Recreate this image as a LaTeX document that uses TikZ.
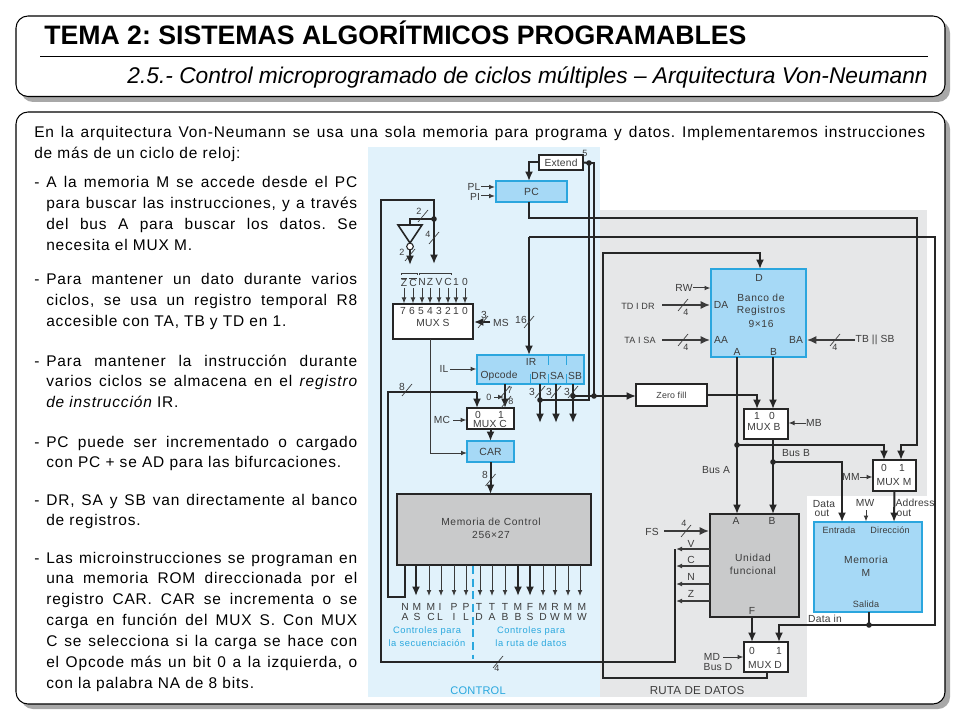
\documentclass[tikz,border=0pt]{standalone}
\usepackage{fontspec}
\usetikzlibrary{arrows.meta,calc}
\setmainfont{Liberation Sans}
\newfontfamily\bodyf[LetterSpace=5.5]{Liberation Sans}
\newfontfamily\lblf[LetterSpace=2]{Liberation Sans}
\newfontfamily\lblw[LetterSpace=6]{Liberation Sans}
\definecolor{wirec}{HTML}{262626}
\definecolor{thinc}{HTML}{3A3A3A}
\definecolor{txtc}{HTML}{3C3C3C}
\definecolor{ctrlbg}{HTML}{E1F2FB}
\definecolor{databg}{HTML}{E6E7E8}
\definecolor{blueb}{HTML}{A6D9F6}
\definecolor{bluee}{HTML}{2BA6DE}
\definecolor{grayb}{HTML}{C9CACB}
\definecolor{cyanl}{HTML}{2AA8DE}
\definecolor{shad}{HTML}{A8A8A8}
\newcounter{lblno}
\newcommand{\bx}[7]{%
 \pgfmathsetmacro{\bw}{(#4-#2)*0.75}\pgfmathsetmacro{\bh}{(#5-#3)*0.75}%
 \node[#6,minimum width=\bw pt,minimum height=\bh pt] (#1) at ({(#2+#4)/2},{(#3+#5)/2}) {#7};}
\newcommand{\lb}[3]{\stepcounter{lblno}\node[lbl] (t\thelblno) at (#1,#2) {#3};}
\newcommand{\lbs}[3]{\stepcounter{lblno}\node[lbls] (t\thelblno) at (#1,#2) {#3};}
\newcommand{\lbm}[3]{\stepcounter{lblno}\node[lblm] (t\thelblno) at (#1,#2) {#3};}
\newcommand{\slsh}[2]{\draw[slashl] ($(#1,#2)+(-5,6)$) -- ($(#1,#2)+(5,-6)$);}
\newcommand{\dotn}[1]{\fill[wirec] (#1) circle (2.8);}
\newcommand{\para}[2]{\stepcounter{lblno}\node[anchor=base west,inner sep=0pt] (t\thelblno) at (46,#1) {\parbox[t]{233.25pt}{\bodyf\fontsize{11.6}{15.68}\selectfont\frenchspacing\hyphenpenalty=10000 #2}};
 \stepcounter{lblno}\node[anchor=base west,inner sep=0pt] (t\thelblno) at (34,#1) {\bodyf\fontsize{11.6}{15.68}\selectfont -};}
\tikzset{
 panel/.style={draw=black,fill=white,line width=0.8pt,rounded corners=9pt},
 shadowp/.style={fill=shad,draw=none,rounded corners=9pt},
 lbl/.style={font=\lblf\fontsize{7.7}{9}\selectfont,text=txtc,inner sep=0pt,align=center},
 lbls/.style={font=\lblf\fontsize{6.8}{8}\selectfont,text=txtc,inner sep=0pt,align=center},
 lblm/.style={font=\lblw\fontsize{7.7}{9}\selectfont,text=txtc,inner sep=0pt,align=center},
 wbox/.style={draw=wirec,fill=white,line width=1.4pt,inner sep=0pt,outer sep=0pt},
 bbox/.style={draw=bluee,fill=blueb,line width=1.4pt,inner sep=0pt,outer sep=0pt},
 gbox/.style={draw=wirec,fill=grayb,line width=1.4pt,inner sep=0pt,outer sep=0pt},
 wire/.style={draw=thinc,line width=0.75pt},
 bus/.style={draw=wirec,line width=1.5pt},
 arrs/.style={-{Latex[length=4.5pt,width=3.6pt]}},
 arrb/.style={-{Latex[length=7pt,width=6pt]}},
 slashl/.style={draw=thinc,line width=0.5pt},
}
\begin{document}
\begin{tikzpicture}[x=0.75pt,y=-0.75pt]
\useasboundingbox (0,0) rectangle (960,720);
\fill[white] (0,0) rectangle (960,720);
% panels
\path[shadowp] (21,21) rectangle (950,102);
\path[panel] (16,16) rectangle (945,96.5);
\path[shadowp] (21,117) rectangle (950,709);
\path[panel] (16,112) rectangle (945,704);
\draw[black,line width=0.5pt] (40,56.5) -- (928,56.5);
\node[anchor=base west,inner sep=0pt] (title) at (44,45) {\fontsize{20}{22}\selectfont\bfseries\frenchspacing TEMA 2: SISTEMAS ALGORÍTMICOS PROGRAMABLES};
\node[anchor=base east,inner sep=0pt] (subtitle) at (928,84) {\fontsize{17.05}{20}\selectfont\itshape 2.5.- Control microprogramado de ciclos múltiples – Arquitectura Von-Neumann};
% intro
\node[anchor=base west,inner sep=0pt] (intro) at (34,138) {\parbox[t]{668.25pt}{\bodyf\fontsize{11.6}{15.68}\selectfont\frenchspacing\hyphenpenalty=10000 En la arquitectura Von-Neumann se usa una sola memoria para programa y datos. Implementaremos instrucciones\linebreak de más de un ciclo de reloj:}};
\para{188}{A la memoria M se accede desde el PC\linebreak para buscar las instrucciones, y a través\linebreak del bus A para buscar los datos. Se\linebreak necesita el MUX M.}
\para{285}{Para mantener un dato durante varios\linebreak ciclos, se usa un registro temporal R8\linebreak accesible con TA, TB y TD en 1.}
\para{366}{Para mantener la instrucción durante\linebreak varios ciclos se almacena en el {\itshape registro}\linebreak {\itshape de instrucción} IR.}
\para{447}{PC puede ser incrementado o cargado\linebreak con PC + se AD para las bifurcaciones.}
\para{505}{DR, SA y SB van directamente al banco\linebreak de registros.}
\para{563}{Las microinstrucciones se programan en\linebreak una memoria ROM direccionada por el\linebreak registro CAR. CAR se incrementa o se\linebreak carga en función del MUX S. Con MUX\linebreak C se selecciona si la carga se hace con\linebreak el Opcode más un bit 0 a la izquierda, o\linebreak con la palabra NA de 8 bits.}
% backgrounds
\fill[ctrlbg] (368,147) rectangle (600,697);
\fill[databg] (600,210) rectangle (927,495.5);
\fill[databg] (600,495) rectangle (807,697);
% boxes
\bx{extend}{539}{155}{583}{170}{wbox}{\lblf\fontsize{7.7}{9}\selectfont\color{txtc}Extend}
\bx{pc}{496}{181}{567}{202}{bbox}{\lblf\fontsize{7.8}{9}\selectfont\color{txtc}PC}
\bx{muxs}{393}{304}{473}{339}{wbox}{}
\bx{ir}{477}{355}{584}{384}{bbox}{}
\bx{muxc}{467}{408}{514}{429}{wbox}{}
\bx{car}{467}{441}{514}{462}{bbox}{\lblf\fontsize{7.8}{9}\selectfont\color{txtc}CAR}
\bx{cmem}{397}{494}{591}{565}{gbox}{}
\bx{bank}{711}{269}{806}{357}{bbox}{}
\bx{zero}{636}{384}{707}{406}{wbox}{\lblf\fontsize{6.6}{9}\selectfont\color{txtc}Zero fill}
\bx{muxb}{744}{409}{788}{439}{wbox}{}
\bx{muxm}{873}{460}{916}{491}{wbox}{}
\bx{alu}{710}{514}{799}{617}{gbox}{}
\bx{mem}{814}{522}{922}{612}{bbox}{}
\bx{muxd}{744}{642}{788}{672}{wbox}{}
% junctions and free ends
\coordinate (j5) at (589,163);
\coordinate (j6) at (594,396);
\coordinate (j7) at (540,400);
\coordinate (j8) at (573,396);
\coordinate (j2) at (434,219);
\coordinate (ja) at (737,445);
\coordinate (jb) at (773,462);
\coordinate (jd) at (869,625);
\coordinate (xpc) at (529,0);
\coordinate (xa) at (737,0);
\coordinate (xb) at (773,0);
\coordinate (xz) at (757,0);
\coordinate (lp1) at (381,200);
\coordinate (lp2) at (381,662);
\coordinate (lp3) at (675,662);
\coordinate (lp4) at (675,549);
% inverter
\coordinate (inva) at (398,225);\coordinate (invb) at (422,225);\coordinate (invc) at (410,243);
\draw[wirec,line width=1.2pt,fill=ctrlbg] (inva) -- (invb) -- (invc) -- cycle;
\node[circle,draw=wirec,fill=white,line width=0.8pt,inner sep=0pt,minimum size=5pt] (bub) at (410,246.5) {};
% status-loop wires
\draw[bus,arrb] (j2) -- (434,264);
\draw[bus] (j2) -- (410,219) -- (410,225);
\draw[bus,arrb] (bub.south) -- (410,265);
\dotn{j2}
% ALU flags
\foreach \yy in {549,566,584,601}{\draw[wire,line width=1.1pt,arrs] (alu.west |- 0,\yy) -- (676,\yy);}
% MUX S inputs
\foreach \xx in {404,413,422,430,439,448,456,465}{\draw[wire,arrs] (\xx,288) -- (\xx,303.5);}
\draw[wire,arrs] (430,339) -- (430,453) -- (car.west |- 0,453);
% Extend / PC
\draw[bus,arrb] (extend.west) -| (xpc |- pc.north);
\draw[bus] (extend.east) -- (j5);
\draw[bus] (j5) -- (594,163) -- (j6);
\draw[bus] (j5) -- (589,400) -- (j7);
\dotn{j5}
% PC out to MUX M
\draw[bus,arrb] (xpc |- pc.south) -- (529,218) -- (917,218) -- (917,445) -- (901,445) -- (901,460);
% Bus D
\draw[bus,arrb] (529,237) -- (xpc |- ir.north);
\draw[bus,arrb] (529,237) -- (935,237) -- (935,625) -- (779,625) -- (779,642);
\draw[bus] (mem.south -| jd) -- (jd);
\dotn{jd}
\draw[bus,arrb] (767,672) -- (767,678) -- (603,678) -- (603,253) -- (760,253) -- (760,269);
% IR
\draw[wire,line width=0.6pt,draw=bluee] (548,355) -- (548,365) (566,355) -- (566,365) (530,374) -- (530,384) (548,374) -- (548,384) (566,374) -- (566,384);
\draw[bus,arrb] (540,384) -- (540,423);
\draw[bus,arrb] (556,384) -- (556,423);
\draw[bus,arrb] (573,384) -- (573,423);
\draw[bus] (j8) -- (j6);
\draw[bus,arrb] (j6) -- (zero.west |- j6);
\dotn{j6}\dotn{j7}\dotn{j8}
\draw[bus,arrb] (505,384) -- (505,408);
% MUX C and CAR
\draw[bus,arrb] (477,392) -- (477,408);
\draw[bus] (477,392) -- (388,392) -- (388,597) -- (405,597) -- (405,565);
\draw[bus,arrb] (muxc.south) -- (car.north);
\draw[bus,arrb] (car.south) -- (cmem.north -| car.south);
\draw[wire,arrs] (494,397) -- (504,397);
\draw[wire,arrs] (453,420) -- (466.5,420);
\draw[wire,arrs] (450,369) -- (476.5,369);
\draw[wire,arrs] (481,187) -- (495,187);
\draw[wire,arrs] (481,196) -- (495,196);
% MS
\draw[bus,arrb] (490,322) -- (474,322);
% control outputs
\foreach \xx in {416,518,530}{\draw[bus,arrb] (\xx,565) -- (\xx,596);}
\foreach \xx in {429,441,454,466,480,492,505,543,555,568,580}{\draw[wire,arrs] (\xx,565) -- (\xx,596);}
\draw[cyanl,line width=1.8pt,dash pattern=on 6pt off 3.5pt] (473,566) -- (473,659);
% data path
\draw[bus,arrb] (xa |- bank.south) -- (xa |- alu.north);
\draw[bus,arrb] (xb |- bank.south) -- (xb |- muxb.north);
\draw[bus,arrb] (xb |- muxb.south) -- (xb |- alu.north);
\draw[bus,arrb] (zero.east) -- (757,395) -- (xz |- muxb.north);
\draw[bus,arrb] (ja) -- (884,445) -- (884,460);
\draw[bus,arrb] (jb) -- (842,462) -- (842,522);
\draw[bus,arrb] (muxm.south) -- (894,522);
\dotn{ja}\dotn{jb}
\draw[wire,arrs] (866,510) -- (866,521.5);
\draw[wire,arrs] (860,477) -- (872.5,477);
\draw[wire,arrs] (806,423) -- (788.5,423);
\draw[wire,arrs] (693,288) -- (710.5,288);
\draw[wire,line width=1.1pt,arrb] (662,305) -- (710,305);
\draw[wire,line width=1.1pt,arrb] (662,340) -- (710,340);
\draw[wire,line width=1.1pt,arrb] (855,340) -- (807,340);
\draw[wire,line width=1.1pt,arrb] (664,531) -- (709,531);
\draw[bus,arrb] (752,617) -- (752,642);
\draw[wire,arrs] (723,657) -- (743.5,657);
% slashes
\slsh{423}{216}\slsh{434}{238}\slsh{410}{255}\slsh{483}{322}\slsh{529}{322}
\slsh{407}{390}\slsh{505}{392}\slsh{506}{402}\slsh{540}{392}\slsh{556}{392}\slsh{573}{392}
\slsh{490.5}{480}\slsh{498}{662}\slsh{683}{305}\slsh{683}{340}\slsh{835}{340}\slsh{686}{531}
% texts: control
\lbs{585}{153}{5}
\lb{474}{187}{PL}\lb{475}{197}{PI}
\lbs{419}{211}{2}\lbs{428}{234}{4}\lbs{402}{252}{2}
\foreach \xx/\tt in {404/\(\overline{\hbox{Z}}\),413/\(\overline{\hbox{C}}\),422/N,430/Z,439/V,448/C,456/1,465/0}{\lb{\xx}{282}{\tt}}
\draw[wire,line width=0.5pt] (401,275) -- (401,273) -- (417,273) -- (417,275) (419,275) -- (419,273) -- (451,273) -- (451,275);
\foreach \xx/\tt in {403/7,412/6,421/5,430/4,439/3,448/2,456/1,465/0}{\lb{\xx}{311}{\tt}}
\lb{433}{323}{MUX S}\lb{501}{323}{MS}\lb{484}{315}{3}\lb{521}{320}{16}
\lb{531}{362}{IR}\lb{499}{376}{Opcode}\lb{539}{376}{DR}\lb{557}{376}{SA}\lb{575}{376}{SB}
\lb{444}{369}{IL}\lb{442}{420}{MC}\lb{402}{387}{8}
\lbs{510}{390}{7}\lbs{511}{401}{8}\lbs{489}{397}{0}
\lb{532}{392}{3}\lb{549}{392}{3}\lb{567}{392}{3}
\lb{478}{415}{0}\lb{501}{415}{1}\lb{490}{424}{MUX C}\lb{485}{475}{8}
\lbm{491}{522}{Memoria de Control}\lbm{491}{535}{256×27}
\foreach \xx/\aa/\bb in {405/N/A,417/M/S,431/M/C,440/I/L,454/P/I,466/P/L,479/T/D,492/T/A,505/T/B,518/M/B,530/F/S,543/M/D,555/R/W,568/M/M,582/M/W}{\lb{\xx}{607}{\aa}\lb{\xx}{617}{\bb}}
\begin{scope}[lbls/.append style={text=cyanl,font=\lblw\fontsize{7}{8}\selectfont},lbl/.append style={text=cyanl,font=\lblf\fontsize{8.3}{9}\selectfont}]
\lbs{427}{631}{Controles para}\lbs{427}{643}{la secuenciación}
\lbs{531}{631}{Controles para}\lbs{531}{643}{la ruta de datos}
\lb{478}{691}{CONTROL}
\end{scope}
\lbs{497}{668}{4}
% texts: data path
\begin{scope}[lbl/.append style={font=\lblf\fontsize{8.7}{9}\selectfont}]
\lb{697}{691}{RUTA DE DATOS}
\end{scope}
\lb{684}{288}{RW}\lbs{638}{306.5}{TD I DR}\lbs{640}{340}{TA I SA}\lb{875}{340}{TB || SB}
\lbs{686}{312}{4}\lbs{686}{347}{4}\lbs{835}{347}{4}\lbs{684}{523}{4}
\lb{759}{278}{D}\lb{721}{305}{DA}\lb{721}{340}{AA}\lb{796}{340}{BA}\lb{737}{352}{A}\lb{773.5}{352}{B}
\lbm{761}{298}{Banco de}\lbm{761}{311}{Registros}\lbm{761}{324}{9×16}
\lb{757}{416}{1}\lb{772}{416}{0}\lb{764}{427}{MUX B}\lb{814}{423}{MB}
\lb{796}{453}{Bus B}\lb{716}{470}{Bus A}
\lb{884}{468}{0}\lb{902}{468}{1}\lb{894}{482}{MUX M}\lb{851}{477}{MM}
\lb{824}{504}{Data}\lb{822}{513}{out}\lb{865}{503}{MW}\lb{915}{503}{Address}\lb{904}{513}{out}
\lbs{839}{530}{Entrada}\lbs{890}{530}{Dirección}\lbm{866}{560}{Memoria}\lbm{866}{573}{M}\lbs{866}{604}{Salida}\lb{825}{619}{Data in}
\lb{652}{532}{FS}
\foreach \yy/\nm in {544/V,560/C,577/N,594/Z}{\lb{691}{\yy}{\nm}}
\lb{736}{521}{A}\lb{772}{521}{B}\lbm{753}{558}{Unidad}\lbm{753}{571}{funcional}\lb{752}{611}{F}
\lb{752}{651}{0}\lb{779}{651}{1}\lb{765}{665}{MUX D}
\lb{712}{657}{MD}\lb{718}{667}{Bus D}
% flag loop
\draw[bus] (j2) -- (j2 |- lp1) -- (lp1) -- (lp2) -- (lp3) -- (lp4);
\end{tikzpicture}
\end{document}
